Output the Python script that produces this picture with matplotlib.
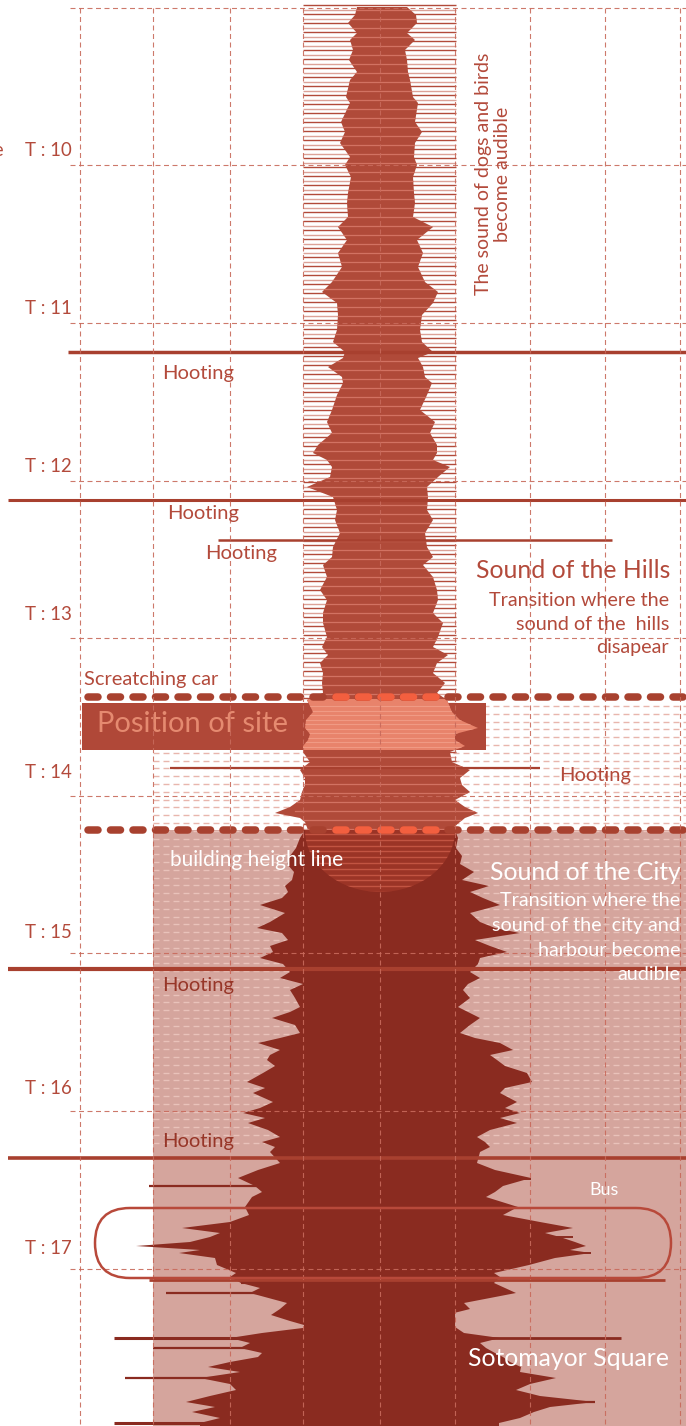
import numpy as np
import matplotlib
matplotlib.use("Agg")
import matplotlib.pyplot as plt
from matplotlib.patches import Polygon, Rectangle, FancyBboxPatch, Ellipse

plt.rcParams['font.family'] = ['Lato', 'DejaVu Sans']
plt.rcParams['lines.scale_dashes'] = False

# ---------------- data ----------------
time_labels = ["T : 10", "T : 11", "T : 12", "T : 13", "T : 14", "T : 15", "T : 16", "T : 17"]
time_label_y = [150, 308, 466, 614, 773, 932, 1089, 1248]
grid_x = [80, 153, 230, 303, 380, 455, 530, 605, 680]
grid_y = [8, 165, 323, 481, 638, 796, 953, 1111, 1269]

# waveform of the hills (upper part), y position and left/right extent
hills_y = [7, 15, 23, 33, 40, 50, 60, 72, 80, 97, 103, 122, 132, 143, 157, 165, 177, 193, 203, 217,
           227, 240, 253, 267, 282, 292, 303, 315, 330, 342, 352, 358, 367, 377, 383, 395, 410, 422, 433, 445,
           453, 460, 467, 477, 487, 497, 510, 520, 533, 547, 557, 565, 577, 590, 600, 613, 623, 637, 647, 655,
           663, 673, 683, 693, 700, 712, 720, 728, 734, 740, 746, 752, 762, 770, 778, 785, 792, 800, 807, 813,
           818, 822, 830]
hills_left = [357, 355, 348, 357, 350, 353, 349, 357, 350, 346, 350, 341, 345, 340, 350, 345, 351, 348, 347, 348,
              338, 347, 338, 342, 332, 322, 337, 338, 337, 333, 345, 343, 328, 342, 343, 337, 332, 327, 332, 318,
              313, 327, 332, 330, 307, 333, 337, 335, 340, 333, 332, 323, 327, 320, 327, 323, 323, 327, 322, 328,
              320, 323, 322, 323, 307, 313, 306, 305, 310, 308, 303, 303, 310, 300, 305, 305, 302, 300, 290, 275,
              300, 305, 308]
hills_right = [407, 416, 417, 407, 415, 405, 407, 408, 410, 413, 418, 415, 422, 415, 414, 417, 413, 414, 415, 413,
               433, 417, 423, 418, 425, 438, 433, 422, 420, 422, 433, 418, 423, 425, 432, 427, 420, 435, 430, 437,
               437, 433, 450, 438, 427, 428, 427, 433, 425, 427, 433, 423, 433, 437, 438, 433, 443, 438, 433, 448,
               437, 433, 445, 437, 447, 452, 460, 478, 455, 455, 465, 450, 452, 470, 460, 462, 470, 455, 465, 478,
               465, 460, 450]

# waveform of the city (lower part)
city_y = [830, 838, 848, 856, 864, 872, 880, 886, 892, 898, 905, 913, 922, 928, 933, 940, 946, 952, 958, 964,
          972, 978, 984, 990, 998, 1007, 1012, 1018, 1025, 1033, 1038, 1043, 1050, 1055, 1060, 1066, 1073, 1082, 1088, 1093,
          1102, 1108, 1113, 1118, 1123, 1130, 1137, 1142, 1147, 1152, 1163, 1170, 1178, 1186, 1192, 1197, 1207, 1215, 1222, 1228,
          1233, 1237, 1242, 1246, 1250, 1253, 1258, 1265, 1273, 1277, 1283, 1288, 1293, 1303, 1309, 1315, 1321, 1327, 1333, 1338,
          1343, 1348, 1353, 1357, 1362, 1367, 1372, 1378, 1384, 1390, 1396, 1402, 1407, 1412, 1418, 1423, 1426]
city_left = [305, 300, 296, 290, 287, 294, 292, 285, 288, 282, 260, 285, 270, 257, 282, 288, 270, 273, 260, 283,
             290, 280, 303, 290, 295, 300, 290, 272, 295, 300, 280, 258, 280, 270, 267, 275, 263, 247, 265, 253,
             273, 260, 243, 265, 248, 268, 280, 262, 275, 270, 280, 258, 238, 255, 262, 252, 245, 249, 230, 182,
             220, 210, 190, 136, 200, 179, 215, 217, 236, 230, 241, 260, 250, 287, 280, 271, 290, 311, 262, 230,
             250, 240, 262, 258, 230, 208, 240, 200, 230, 236, 210, 186, 215, 192, 220, 200, 200]
city_right = [455, 458, 456, 462, 460, 474, 462, 489, 470, 483, 500, 470, 480, 495, 520, 475, 490, 507, 480, 478,
              470, 480, 468, 463, 470, 458, 468, 480, 470, 460, 475, 500, 513, 490, 497, 505, 527, 532, 505, 500,
              517, 505, 520, 500, 517, 490, 477, 485, 490, 480, 477, 495, 531, 503, 495, 486, 518, 503, 540, 573,
              545, 560, 575, 586, 570, 591, 555, 529, 494, 500, 494, 505, 516, 464, 470, 446, 455, 455, 464, 500,
              480, 486, 495, 503, 510, 521, 520, 556, 530, 516, 540, 595, 550, 534, 520, 499, 499]

# long thin streaks (hooting, bus...)
streak_y = [352, 500, 540, 768, 969, 1158, 1186, 1179, 1253, 1280, 1293, 1338, 1338, 1348, 1378, 1402, 1423, 1237, 1283]
streak_x0 = [68, 8, 218, 170, 8, 8, 149, 470, 520, 149, 166, 114, 460, 153, 125, 520, 114, 500, 241]
streak_x1 = [686, 686, 612, 540, 686, 686, 300, 531, 591, 665, 290, 290, 621, 280, 250, 595, 250, 573, 300]
streak_w = [2.5, 2.2, 1.8, 1.6, 3.0, 2.6, 1.6, 1.4, 1.4, 2.0, 1.6, 2.2, 2.0, 1.6, 1.6, 1.6, 2.2, 1.4, 1.5]

# ---------------- colours ----------------
RED = '#b34a3b'
HILL = '#b04a39'
CITY = '#8a2b20'
PINK = '#d5a59d'
BOX = '#b04838'
SALMON = '#e8836b'
GRID = '#c86a5b'
ORANGE = '#f35f3f'
DOT = '#a8412f'

W, H = 686, 1426
PT = 0.72
fig = plt.figure(figsize=(W / 100, H / 100), dpi=100)
ax = fig.add_axes([0, 0, 1, 1])
ax.set_xlim(0, W)
ax.set_ylim(H, 0)
ax.axis('off')

# pink city background
ax.add_patch(Rectangle((153, 830), W - 153, H - 830, color=PINK, zorder=1, lw=0))

# dashed light stripes across site band and city zone
for yy in np.arange(706, 1150, 7.8):
    col = '#e9c2ba' if yy > 830 else '#e8b6ad'
    ax.plot([153, W], [yy, yy], color=col, lw=1.0, dashes=(6 * PT, 4 * PT), zorder=2)

# column hatching
for i, yy in enumerate(np.arange(5, 830, 4.5)):
    col = '#b24a3a' if i % 2 == 0 else '#dca298'
    ax.plot([303, 456], [yy, yy], color=col, lw=1.0, zorder=2, solid_capstyle='butt')

# hills waveform
hill_poly = np.column_stack([hills_left + hills_right[::-1], hills_y + hills_y[::-1]])
hp = Polygon(hill_poly, closed=True, color=HILL, lw=0, zorder=3)
ax.add_patch(hp)
for yy in np.arange(9.5, 830, 9):
    ln, = ax.plot([295, 480], [yy, yy], color='#d27262', lw=0.9, zorder=3.5)
    ln.set_clip_path(hp)

# city waveform (with solid core column)
city_poly = np.column_stack([city_left + city_right[::-1], city_y + city_y[::-1]])
ax.add_patch(Polygon(city_poly, closed=True, color=CITY, lw=0, zorder=3))
ax.add_patch(Rectangle((304, 830), 151, H - 830, color=CITY, lw=0, zorder=3))

# dome below building height line
dome = Ellipse((380, 830), 150, 124, color='#9b3426', lw=0, zorder=4)
ax.add_patch(dome)
clip_r = Rectangle((300, 830), 160, 70, transform=ax.transData)
dome.set_clip_path(clip_r)
for yy in np.arange(834, 895, 5.8):
    ln, = ax.plot([300, 460], [yy, yy], color='#c25442', lw=1.0, zorder=4.5)
    ln.set_clip_path(Ellipse((380, 830), 150, 124, transform=ax.transData))

# streaks
for yy, x0, x1, w in zip(streak_y, streak_x0, streak_x1, streak_w):
    col = '#a8402f' if (x1 - x0) > 500 or yy < 830 else CITY
    ax.plot([x0, x1], [yy, yy], color=col, lw=w, zorder=4.8, solid_capstyle='butt')

# position of site box
box = Rectangle((82, 703), 404, 47, color=BOX, lw=0, zorder=5)
ax.add_patch(box)
sal = Polygon(hill_poly, closed=True, color=SALMON, lw=0, zorder=5.5)
ax.add_patch(sal)
sal.set_clip_path(Rectangle((82, 699), 404, 51, transform=ax.transData))
for yy in np.arange(706, 750, 4.5):
    ln, = ax.plot([300, 480], [yy, yy], color='#f09a84', lw=0.8, zorder=5.6)
    ln.set_clip_path(sal.get_path(), sal.get_transform())
ax.text(97, 724, "Position of site", color='#e58a70', fontsize=21, va='center', ha='left', zorder=6)

# dotted thick lines
for yy in [697, 830]:
    ax.plot([88, W + 10], [yy, yy], color=DOT, lw=5.4, dashes=(10 * PT, 12.5 * PT),
            dash_capstyle='round', zorder=7)
    ax.plot([336, 440], [yy, yy], color=ORANGE, lw=5.4, dashes=(10 * PT, 12.5 * PT),
            dash_capstyle='round', zorder=7.1)

# grid
for gx in grid_x:
    ax.plot([gx, gx], [8, H], color=GRID, lw=0.8, dashes=(5 * PT, 3.5 * PT), zorder=8, alpha=0.9)
for gy in grid_y:
    ax.plot([70, W], [gy, gy], color=GRID, lw=0.8, dashes=(5 * PT, 3.5 * PT), zorder=8, alpha=0.9)

# bus pill
ax.add_patch(FancyBboxPatch((95, 1208), 576, 70, boxstyle="round,pad=0,rounding_size=35",
                            fill=False, ec='#b8493a', lw=1.8, zorder=8.5))

# time labels
for lab, yy in zip(time_labels, time_label_y):
    ax.text(48, yy, lab, color=RED, fontsize=13.4, ha='center', va='center', zorder=9)
ax.text(4, 150, "Time", color=RED, fontsize=13.4, ha='right', va='center', zorder=9)

# annotations
hoot = [(198, 374, RED), (203, 514, RED), (241, 554, RED), (595, 775, RED), (198, 986, '#973628'), (198, 1142, '#973628')]
for x, y, c in hoot:
    ax.text(x, y, "Hooting", color=c, fontsize=14.5, ha='center', va='center', zorder=9)
ax.text(151, 679, "Screatching car", color=RED, fontsize=14.4, ha='center', va='center', zorder=9)

ax.text(670, 570, "Sound of the Hills", color=RED, fontsize=17.8, ha='right', va='center', zorder=9)
for t, yy in zip(["Transition where the", "sound of the  hills", "disapear"], [600, 624, 648]):
    ax.text(669, yy, t, color=RED, fontsize=14.2, ha='right', va='center', zorder=9)

ax.text(257, 860, "building height line", color='white', fontsize=15, ha='center', va='center', zorder=9)
ax.text(681, 872, "Sound of the City", color='white', fontsize=17.8, ha='right', va='center', zorder=9)
for t, yy in zip(["Transition where the", "sound of the  city and", "harbour become", "audible"], [900, 925, 950, 975]):
    ax.text(680, yy, t, color='white', fontsize=14.2, ha='right', va='center', zorder=9)
ax.text(604, 1190, "Bus", color='white', fontsize=13, ha='center', va='center', zorder=9)
ax.text(669, 1358, "Sotomayor Square", color='white', fontsize=17.8, ha='right', va='center', zorder=9)

ax.text(493, 174, "The sound of dogs and birds\nbecome audible", color=RED, fontsize=14,
        rotation=90, ha='center', va='center', multialignment='center', linespacing=1.1, zorder=9)

fig.savefig("out.png", dpi=100)
